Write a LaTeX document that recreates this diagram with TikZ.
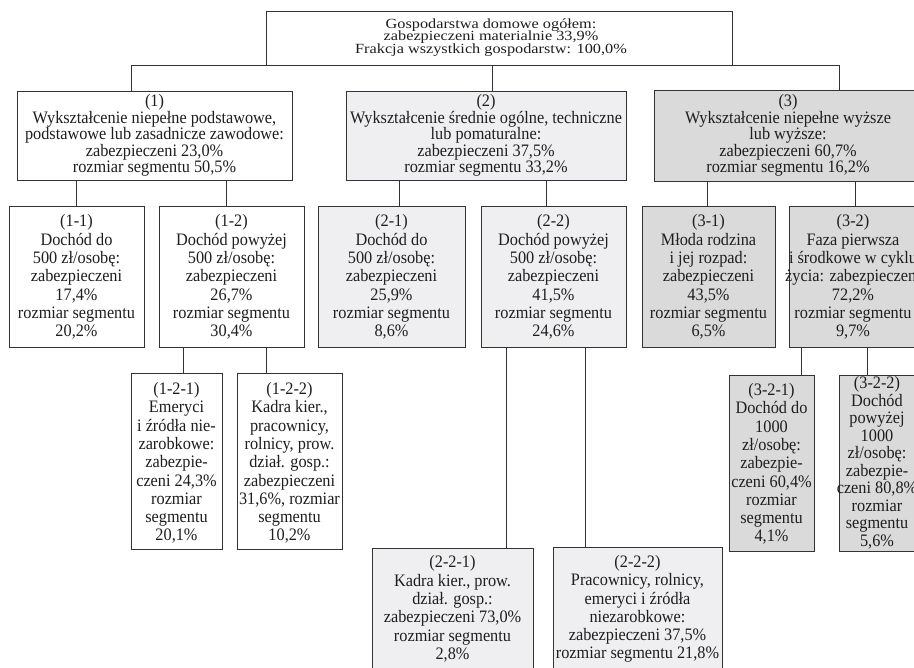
\documentclass[tikz,border=0pt]{standalone}
\usepackage{fontspec}
\usepackage{graphicx}
\setmainfont{Liberation Serif}[FakeStretch=0.93]
\definecolor{linec}{HTML}{333333}
\definecolor{txt}{HTML}{1E1E1E}
\definecolor{fillB}{HTML}{EFEFF1}
\definecolor{fillC}{HTML}{DADADA}
\begin{document}
\begin{tikzpicture}[x=1pt,y=-1pt,
  box/.style={draw=linec, line width=0.9pt, inner sep=0pt, rectangle},
  wbox/.style={box, fill=white},
  lbox/.style={box, fill=fillB},
  gbox/.style={box, fill=fillC},
  lab/.style={align=center, inner sep=0pt, text=txt, font=\fontsize{17.5}{18.3}\selectfont},
  labA/.style={align=center, inner sep=0pt, text=txt, font=\fontsize{17.5}{16.4}\selectfont},
  labT/.style={align=center, inner sep=0pt, text=txt, font=\fontsize{17.5}{17.5}\selectfont},
  conn/.style={draw=linec, line width=0.9pt}]
\useasboundingbox (0,0) rectangle (914,668);
\clip (0,0) rectangle (914,668);

% ---- top
\node[wbox, minimum width=466, minimum height=54] (top) at (499,38) {};
\node[inner sep=0pt, text=txt] (ltop) at (491,37.5) {\scalebox{1}[0.8]{\vbox{\fontsize{17.5}{15.6}\selectfont\hsize=320pt\centering\lineskiplimit=-100pt
Gospodarstwa domowe ogółem:\\
zabezpieczeni materialnie 33,9\%\\
Frakcja wszystkich gospodarstw: 100,0\%\par}}};

% ---- level 1
\node[wbox, minimum width=275, minimum height=89] (b1) at (154.5,135.5) {};
\node[labA] (l1) at (154.5,135.5) {(1)\\Wykształcenie niepełne podstawowe,\\podstawowe lub zasadnicze zawodowe:\\zabezpieczeni 23,0\%\\rozmiar segmentu 50,5\%};
\node[lbox, minimum width=280, minimum height=89] (b2) at (486,135.5) {};
\node[labA] (l2) at (486,135.5) {(2)\\Wykształcenie średnie ogólne, techniczne\\lub pomaturalne:\\zabezpieczeni 37,5\%\\rozmiar segmentu 33,2\%};
\node[gbox, minimum width=268, minimum height=91] (b3) at (788,135.5) {};
\node[labA] (l3) at (788,135.5) {(3)\\Wykształcenie niepełne wyższe\\lub wyższe:\\zabezpieczeni 60,7\%\\rozmiar segmentu 16,2\%};

\draw[conn] ([xshift=-23.5]b1.north) |- (top.south west);
\draw[conn] ([xshift=6]b2.north) -- ([xshift=6]b2.north |- top.south);
\draw[conn] ([xshift=51]b3.north) |- (top.south east);

% ---- level 2
\node[wbox, minimum width=135, minimum height=141] (b11) at (76.5,276.5) {};
\node[lab] (l11) at (76.5,277) {(1-1)\\Dochód do\\500 zł/osobę:\\zabezpieczeni\\17,4\%\\rozmiar segmentu\\20,2\%};
\node[wbox, minimum width=145, minimum height=141] (b12) at (231.5,276.5) {};
\node[lab] (l12) at (231.5,277) {(1-2)\\Dochód powyżej\\500 zł/osobę:\\zabezpieczeni\\26,7\%\\rozmiar segmentu\\30,4\%};
\node[lbox, minimum width=147, minimum height=141] (b21) at (391.5,276.5) {};
\node[lab] (l21) at (391.5,277) {(2-1)\\Dochód do\\500 zł/osobę:\\zabezpieczeni\\25,9\%\\rozmiar segmentu\\8,6\%};
\node[lbox, minimum width=145, minimum height=141] (b22) at (553.5,276.5) {};
\node[lab] (l22) at (553.5,277) {(2-2)\\Dochód powyżej\\500 zł/osobę:\\zabezpieczeni\\41,5\%\\rozmiar segmentu\\24,6\%};
\node[gbox, minimum width=133, minimum height=141] (b31) at (708.5,276.5) {};
\node[lab] (l31) at (708.5,277) {(3-1)\\Młoda rodzina\\i jej rozpad:\\zabezpieczeni\\43,5\%\\rozmiar segmentu\\6,5\%};
\node[gbox, minimum width=128, minimum height=141] (b32) at (853,276.5) {};
\node[lab] (l32) at (853,277) {(3-2)\\Faza pierwsza\\i środkowe w cyklu\\życia: zabezpieczeni\\72,2\%\\rozmiar segmentu\\9,7\%};

\draw[conn] (b11.north) -- (b11.north |- b1.south);
\draw[conn] ([xshift=-5.5]b12.north) -- ([xshift=-5.5]b12.north |- b1.south);
\draw[conn] ([xshift=7.5]b21.north) -- ([xshift=7.5]b21.north |- b2.south);
\draw[conn] ([xshift=-7.5]b22.north) -- ([xshift=-7.5]b22.north |- b2.south);
\draw[conn] ([xshift=-1.5]b31.north) -- ([xshift=-1.5]b31.north |- b3.south);
\draw[conn] ([xshift=2]b32.north) -- ([xshift=2]b32.north |- b3.south);

% ---- level 3
\node[wbox, minimum width=91, minimum height=176] (b121) at (176.5,461) {};
\node[lab] (l121) at (176.5,463) {(1-2-1)\\Emeryci\\i źródła nie-\\zarobkowe:\\zabezpie-\\czeni 24,3\%\\rozmiar\\segmentu\\20,1\%};
\node[wbox, minimum width=105, minimum height=176] (b122) at (289.5,461) {};
\node[lab] (l122) at (289.5,463) {(1-2-2)\\Kadra kier.,\\pracownicy,\\rolnicy, prow.\\dział. gosp.:\\zabezpieczeni\\31,6\%, rozmiar\\segmentu\\10,2\%};
\node[gbox, minimum width=85, minimum height=176] (b321) at (771.5,463) {};
\node[lab] (l321) at (771.5,464) {(3-2-1)\\Dochód do\\1000\\zł/osobę:\\zabezpie-\\czeni 60,4\%\\rozmiar\\segmentu\\4,1\%};
\node[gbox, minimum width=76, minimum height=176] (b322) at (877,463) {};
\node[labT] (l322) at (877,463) {(3-2-2)\\Dochód\\powyżej\\1000\\zł/osobę:\\zabezpie-\\czeni 80,8\%\\rozmiar\\segmentu\\5,6\%};

\draw[conn] ([xshift=7]b121.north) -- ([xshift=7]b121.north |- b12.south);
\draw[conn] ([xshift=-23.5]b122.north) -- ([xshift=-23.5]b122.north |- b12.south);
\draw[conn] ([xshift=30]b321.north) -- ([xshift=30]b321.north |- b32.south);
\draw[conn] ([xshift=-10]b322.north) -- ([xshift=-10]b322.north |- b32.south);

% ---- bottom
\node[lbox, minimum width=161, minimum height=140] (b221) at (452.5,618) {};
\node[lab] (l221) at (452.5,609) {(2-2-1)\\Kadra kier., prow.\\dział. gosp.:\\zabezpieczeni 73,0\%\\rozmiar segmentu\\2,8\%};
\node[lbox, minimum width=169, minimum height=141] (b222) at (637.5,617.5) {};
\node[lab] (l222) at (637.5,609) {(2-2-2)\\Pracownicy, rolnicy,\\emeryci i źródła\\niezarobkowe:\\zabezpieczeni 37,5\%\\rozmiar segmentu 21,8\%};

\draw[conn] ([xshift=53.5]b221.north) -- ([xshift=53.5]b221.north |- b22.south);
\draw[conn] ([xshift=-52]b222.north) -- ([xshift=-52]b222.north |- b22.south);
\end{tikzpicture}
\end{document}
